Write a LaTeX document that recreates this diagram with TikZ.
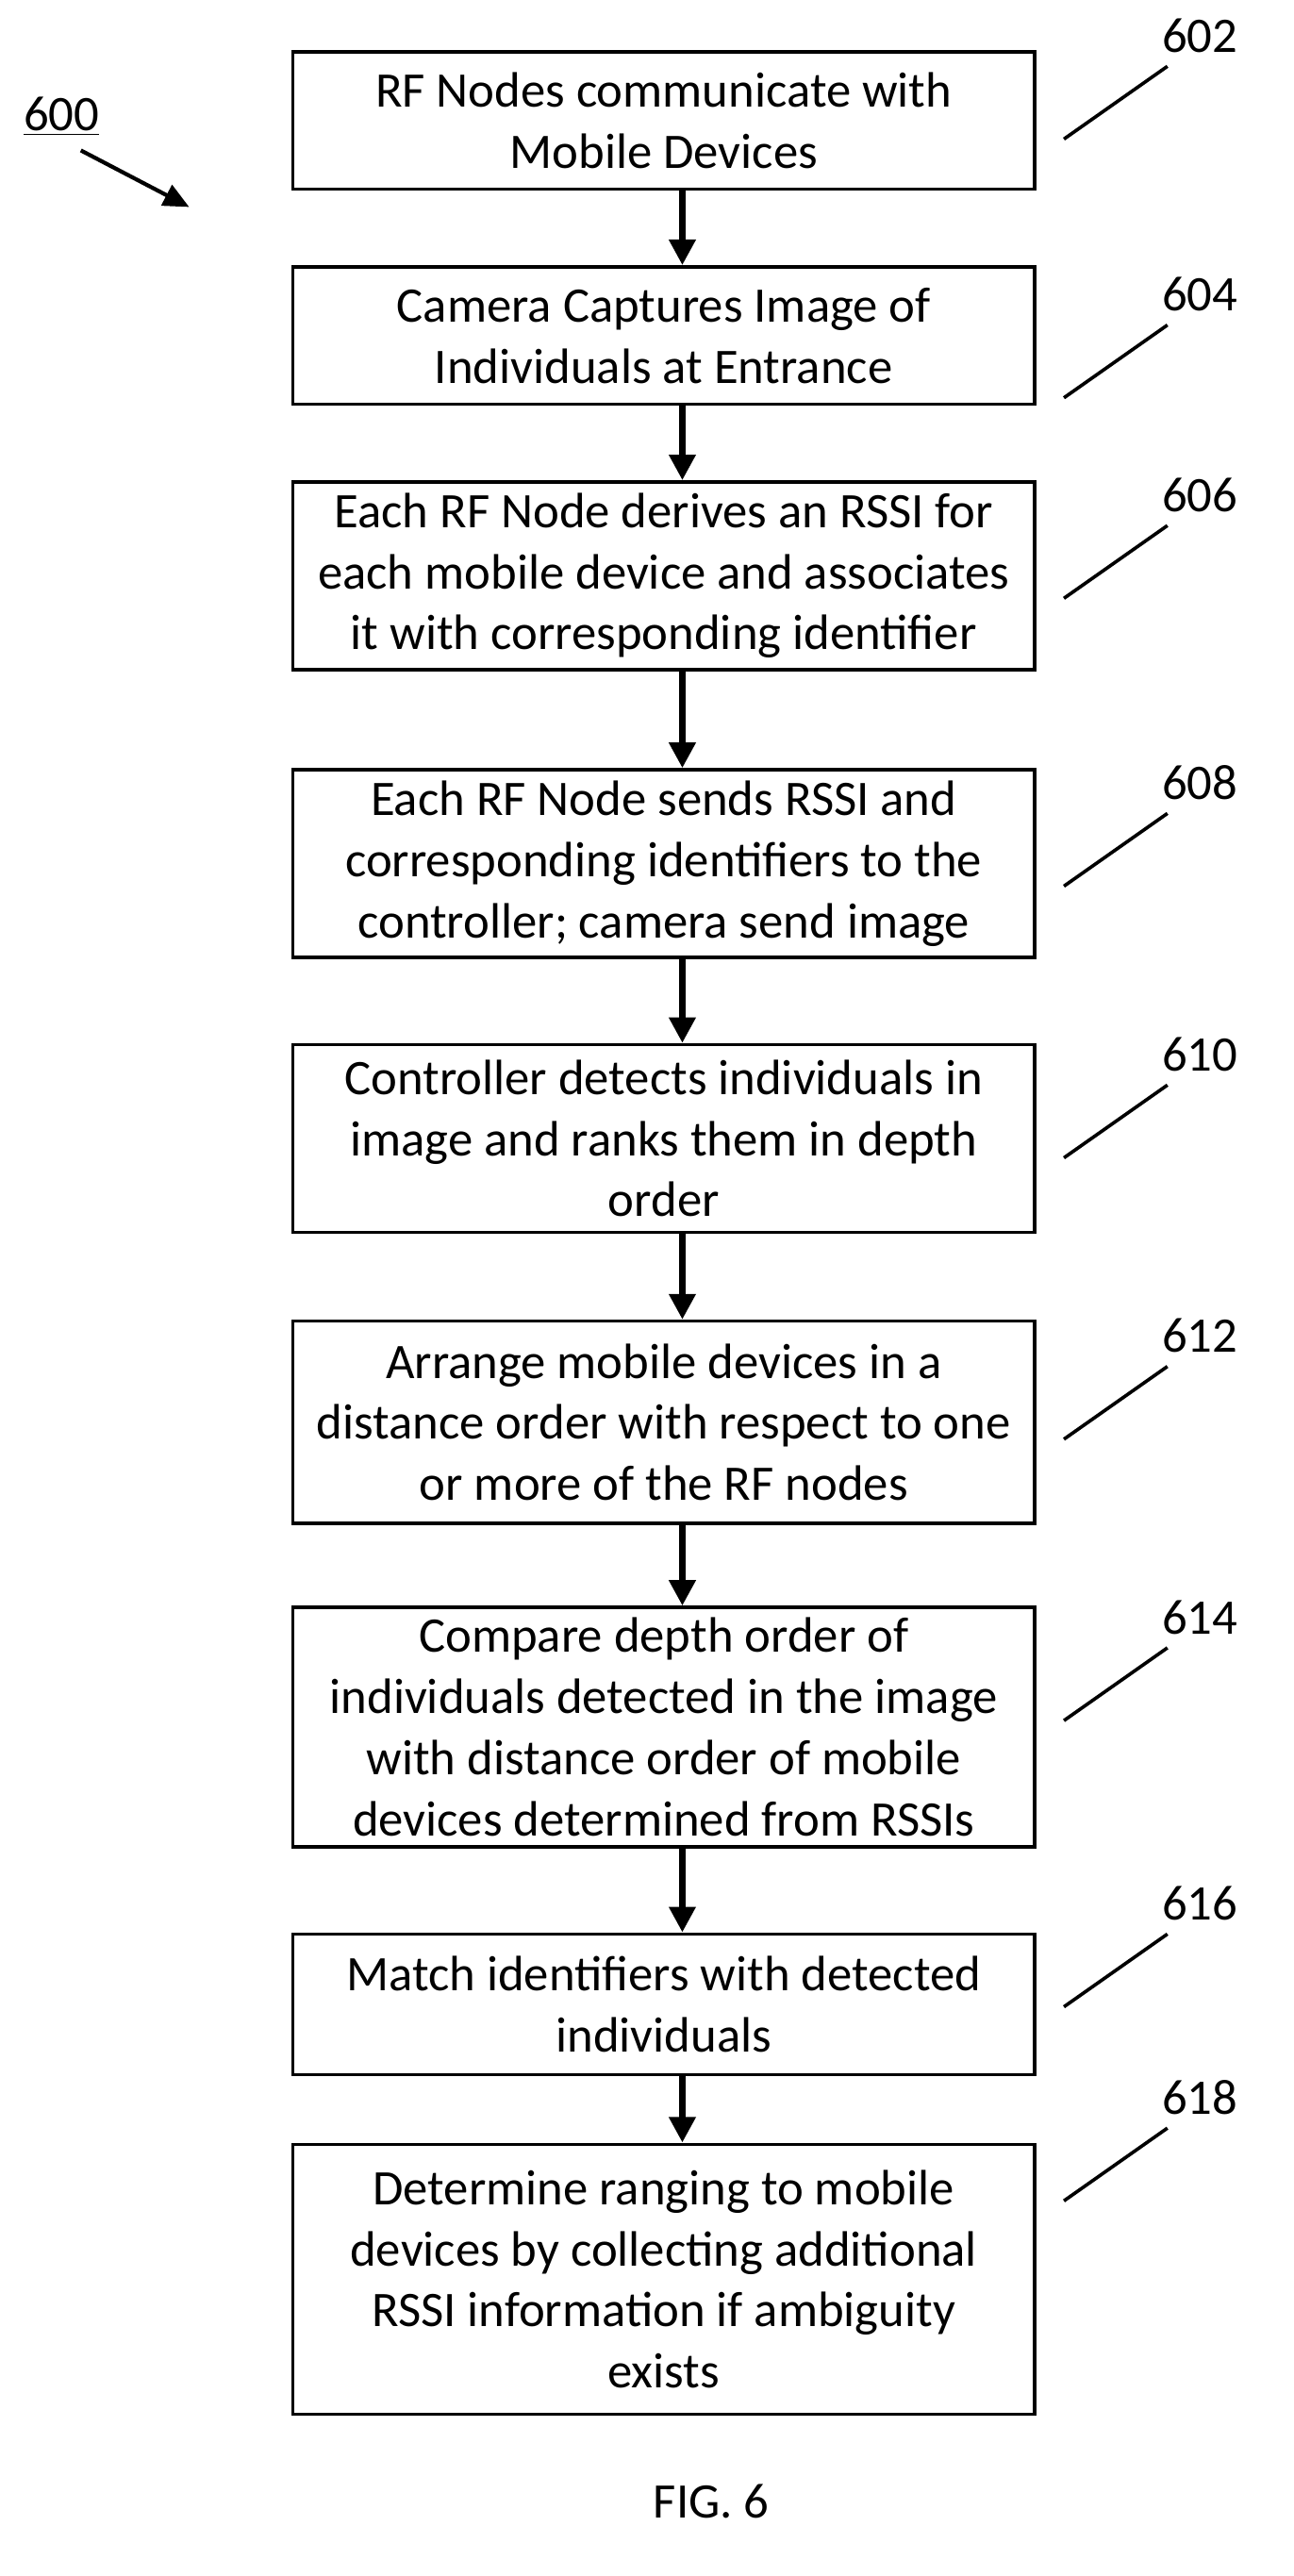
\documentclass[tikz,border=0pt]{standalone}
\usepackage{fontspec}
\setmainfont{Carlito}
\usetikzlibrary{arrows.meta}
\begin{document}
\begin{tikzpicture}[x=0.02cm,y=-0.02cm,
  box/.style={draw,line width=1.2pt,minimum width=9.18cm,align=center,font=\fontsize{17.5}{21.5}\selectfont,inner sep=0pt},
  arr/.style={line width=2.2pt,-{Triangle[length=9pt,width=9pt]}},
  lead/.style={line width=1.2pt},
  num/.style={font=\fontsize{17.5}{20}\selectfont}]
\useasboundingbox (0,0) rectangle (800,1593);
\node[box,minimum height=1.7cm] (b602) at (410.5,74.5) {RF Nodes communicate with\\Mobile Devices};
\node[box,minimum height=1.7cm] (b604) at (410.5,207.5) {Camera Captures Image of\\Individuals at Entrance};
\node[box,minimum height=2.32cm] (b606) at (410.5,356) {Each RF Node derives an RSSI for\\each mobile device and associates\\it with corresponding identifier};
\node[box,minimum height=2.32cm] (b608) at (410.5,534) {Each RF Node sends RSSI and\\corresponding identifiers to the\\controller; camera send image};
\node[box,minimum height=2.32cm] (b610) at (410.5,704) {Controller detects individuals in\\image and ranks them in depth\\order};
\node[box,minimum height=2.5cm] (b612) at (410.5,879.5) {Arrange mobile devices in a\\distance order with respect to one\\or more of the RF nodes};
\node[box,minimum height=2.96cm] (b614) at (410.5,1068) {Compare depth order of\\individuals detected in the image\\with distance order of mobile\\devices determined from RSSIs};
\node[box,minimum height=1.74cm] (b616) at (410.5,1239.5) {Match identifiers with detected\\individuals};
\node[box,minimum height=3.34cm] (b618) at (410.5,1409.5) {Determine ranging to mobile\\devices by collecting additional\\RSSI information if ambiguity\\exists};
\foreach \a/\b in {602/604,604/606,606/608,608/610,610/612,612/614,614/616,616/618}
  \draw[arr] (b\a.south -| 422,0) -- (b\b.north -| 422,0);
\foreach \n/\ty in {602/22,604/182,606/306,608/484,610/652,612/826,614/1000,616/1177,618/1297}{
  \node[num] (l\n) at (742,\ty) {\n};
  \coordinate (c\n) at (722,\ty+19);
  \coordinate (d\n) at (658,\ty+64);
  \draw[lead] (d\n) -- (c\n);
}
\node[num,inner sep=1pt] (l600) at (38,72) {\underline{600}};
\coordinate (a600s) at (50,93);
\coordinate (a600e) at (117,128);
\draw[line width=1.4pt,-{Triangle[length=9pt,width=8pt]}] (a600s) -- (a600e);
\node[num] (fig) at (440,1547) {FIG. 6};
\end{tikzpicture}
\end{document}
